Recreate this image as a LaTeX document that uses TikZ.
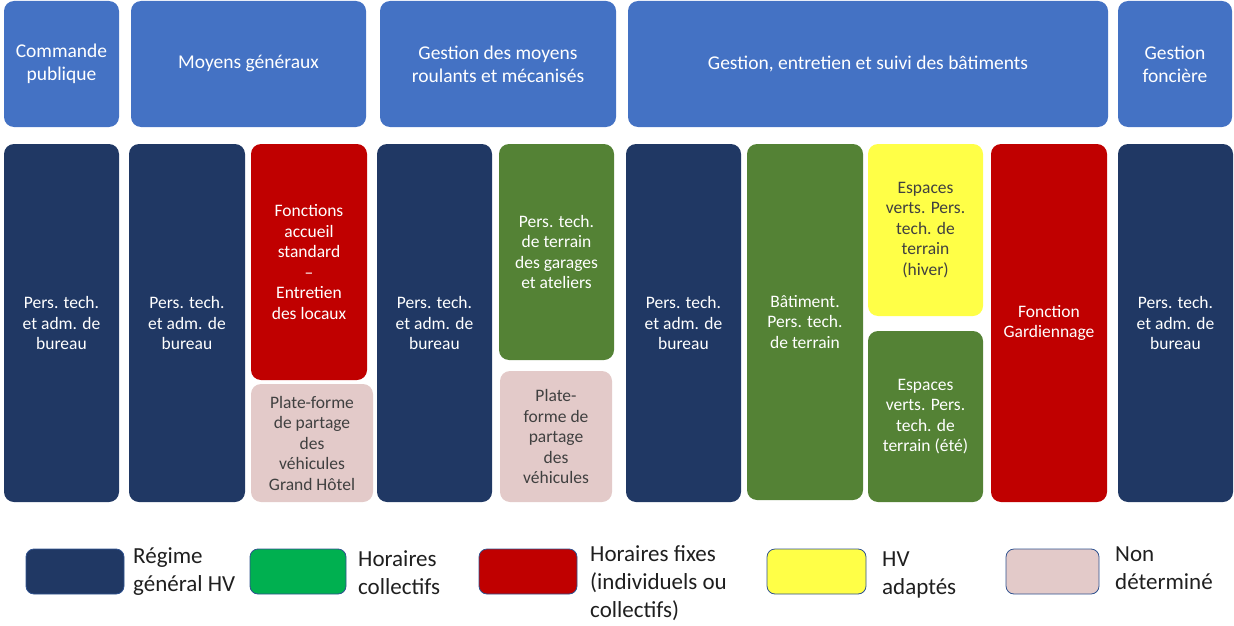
\documentclass[tikz,border=0pt]{standalone}
\usepackage{fontspec}
\setmainfont{Carlito}
\usepackage{tikz}

\definecolor{headblue}{HTML}{4472C4}
\definecolor{navy}{HTML}{203864}
\definecolor{fixred}{HTML}{C00000}
\definecolor{fieldgreen}{HTML}{548235}
\definecolor{hvyellow}{HTML}{FFFF47}
\definecolor{undetpink}{HTML}{E3CAC9}
\definecolor{keygreen}{HTML}{00B050}
\definecolor{edgeblue}{HTML}{2F528F}
\definecolor{darktext}{HTML}{404040}

\newcommand{\headfont}{\fontsize{19.5}{23}\selectfont}
\newcommand{\cellfont}{\fontsize{17.5}{20.5}\selectfont}
\newcommand{\keyfont}{\fontsize{23}{28}\selectfont}

\tikzset{
  head/.style={fill=headblue, rounded corners=10pt, text=white, align=center, font=\headfont, inner sep=0pt, minimum height=126pt},
  cell/.style={fill=#1, rounded corners=10pt, text=white, align=center, font=\cellfont, inner sep=0pt},
  keybox/.style={fill=#1, draw=edgeblue, line width=0.8pt, rounded corners=8pt, minimum height=45pt, inner sep=0pt},
  keytext/.style={anchor=north west, align=left, font=\keyfont, inner sep=0pt, text=black!88}
}

\begin{document}
\begin{tikzpicture}[x=1pt,y=-1pt]
  \useasboundingbox (0,0) rectangle (1234,626);

  % services
  \node[head, minimum width=115pt] (cmdpub) at (61.5,64) {Commande\\publique};
  \node[head, minimum width=235pt] (moyens) at (248.5,64) {Moyens généraux};
  \node[head, minimum width=236pt] (roulants) at (498,64) {Gestion des moyens\\roulants et mécanisés};
  \node[head, minimum width=480pt] (batiments) at (868,64) {Gestion, entretien et suivi des bâtiments};
  \node[head, minimum width=114pt] (fonciere) at (1175,64) {Gestion\\foncière};

  % bureau staff
  \foreach \cx/\w [count=\i] in {61.5/115, 187/116, 434.5/115, 683.5/115, 1175.5/115} {
    \node[cell=navy, minimum width=\w pt, minimum height=358pt] (bureau\i) at (\cx,323) {Pers. tech.\\et adm. de\\bureau};
  }

  \node[cell=fixred, minimum width=116pt, minimum height=236pt] (accueil) at (309,262)
    {Fonctions\\accueil\\standard\\–\\Entretien\\des locaux};
  \node[cell=undetpink, text=darktext, minimum width=122pt, minimum height=118pt] (platehotel) at (312,443)
    {Plate-forme\\de partage\\des\\véhicules\\Grand Hôtel};

  \node[cell=fieldgreen, minimum width=115pt, minimum height=216pt] (garages) at (556.5,252)
    {Pers. tech.\\de terrain\\des garages\\et ateliers};
  \node[cell=undetpink, text=darktext, minimum width=112pt, minimum height=131pt] (plateveh) at (556,436.5)
    {Plate-\\forme de\\partage\\des\\véhicules};

  \node[cell=fieldgreen, minimum width=116pt, minimum height=356pt] (batterrain) at (805,322)
    {Bâtiment.\\Pers. tech.\\de terrain};
  \node[cell=hvyellow, text=darktext, minimum width=115pt, minimum height=172pt] (hiver) at (925.5,230)
    {Espaces\\verts. Pers.\\tech. de\\terrain\\(hiver)};
  \node[cell=fieldgreen, minimum width=115pt, minimum height=171pt] (ete) at (925.5,416.5)
    {Espaces\\verts. Pers.\\tech. de\\terrain (été)};
  \node[cell=fixred, minimum width=116pt, minimum height=358pt] (gardien) at (1049,323)
    {Fonction\\Gardiennage};

  % legend
  \node[keybox=navy, minimum width=98pt] (keyhv) at (75,571.5) {};
  \node[keybox=keygreen, minimum width=96pt] (keycoll) at (298,571.5) {};
  \node[keybox=fixred, minimum width=98pt] (keyfix) at (528,571.5) {};
  \node[keybox=hvyellow, minimum width=99pt] (keyadapt) at (816.5,571.5) {};
  \node[keybox=undetpink, minimum width=93pt] (keynd) at (1052.5,571.5) {};

  \node[keytext] (lblhv) at (133,547) {Régime\\général HV};
  \node[keytext] (lblcoll) at (358,550) {Horaires\\collectifs};
  \node[keytext] (lblfix) at (590,545) {Horaires fixes\\(individuels ou\\collectifs)};
  \node[keytext] (lbladapt) at (882,552) {HV\\adaptés};
  \node[keytext] (lblnd) at (1115,547) {Non\\déterminé};
\end{tikzpicture}
\end{document}
